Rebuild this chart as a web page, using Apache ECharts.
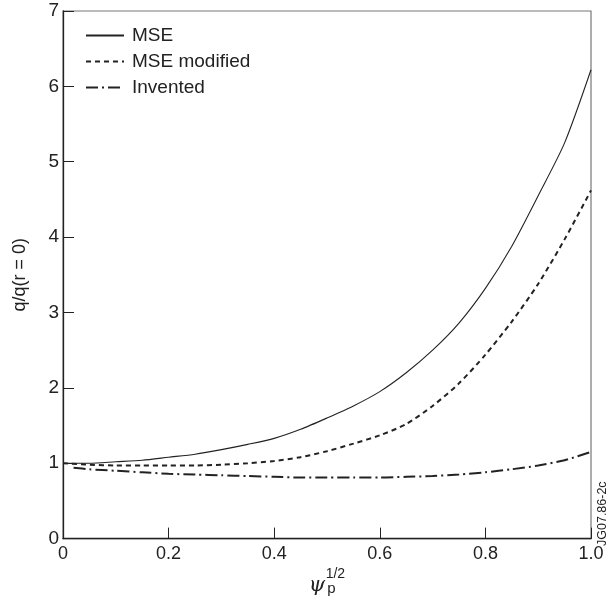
<!DOCTYPE html>
<html><head><meta charset="utf-8">
<script src="https://cdn.jsdelivr.net/npm/echarts@6/dist/echarts.min.js"></script>
<style>html,body{margin:0;padding:0;background:#fff}#c{width:608px;height:601px}</style>
</head><body><div id="c"></div>
<script>
var xs = [0,0.05,0.1,0.15,0.2,0.25,0.3,0.35,0.4,0.45,0.5,0.55,0.6,0.65,0.7,0.75,0.8,0.85,0.9,0.95,1.0];
var mse = [1.00,1.00,1.02,1.04,1.08,1.12,1.18,1.25,1.33,1.45,1.60,1.76,1.95,2.20,2.50,2.86,3.32,3.88,4.55,5.25,6.22];
var mseMod = [1.00,0.98,0.97,0.97,0.97,0.97,0.98,1.00,1.03,1.08,1.16,1.26,1.37,1.52,1.76,2.06,2.44,2.88,3.38,3.97,4.62];
var invX = [0.02,0.05,0.1,0.15,0.2,0.25,0.3,0.35,0.4,0.45,0.5,0.55,0.6,0.65,0.7,0.75,0.8,0.85,0.9,0.95,1.0];
var invented = [0.94,0.92,0.90,0.88,0.86,0.85,0.84,0.83,0.82,0.81,0.81,0.81,0.81,0.82,0.83,0.85,0.88,0.92,0.97,1.04,1.15];
var seriesNames = ['MSE','MSE modified','Invented'];
var xTicks = {0:'0',0.2:'0.2',0.4:'0.4',0.6:'0.6',0.8:'0.8',1:'1.0'};

function pairs(x, y){ return x.map(function(v,i){ return [v, y[i]]; }); }

var chart = echarts.init(document.getElementById('c'), null, {renderer:'canvas'});
var font = 'Liberation Sans, Arial, Helvetica, sans-serif';
chart.setOption({
  animation:false,
  textStyle:{fontFamily:font},
  grid:{left:63,right:17,top:11,bottom:61,show:true,borderColor:'#777',borderWidth:1.2},
  legend:{
    orient:'vertical', left:80, top:21, itemWidth:38, itemHeight:14, itemGap:7,
    itemStyle:{opacity:0},
    textStyle:{fontSize:19,color:'#222',fontFamily:font,padding:[0,0,0,3]},
    data:seriesNames
  },
  xAxis:{
    type:'value', min:0, max:1, interval:0.2,
    axisLine:{show:true,onZero:false,lineStyle:{color:'#222',width:1.3}},
    axisTick:{show:true,inside:true,length:11,lineStyle:{color:'#222',width:1}},
    splitLine:{show:false},
    axisLabel:{fontSize:18,color:'#222',margin:6,fontFamily:font,
      formatter:function(v){ var k=Math.round(v*10)/10; return xTicks[k]!==undefined?xTicks[k]:String(k); }},
    name:'{psi|ψ}{sub|p}{sup|1/2}', nameLocation:'middle', nameGap:26,
    nameTextStyle:{rich:{
      psi:{fontSize:21,fontStyle:'italic',fontFamily:'DejaVu Serif, serif',color:'#222',verticalAlign:'bottom'},
      sub:{fontSize:15,color:'#222',fontFamily:font,padding:[14,0,0,2]},
      sup:{fontSize:14,color:'#222',fontFamily:font,padding:[0,0,14,-10]}
    }}
  },
  yAxis:{
    type:'value', min:0, max:7, interval:1,
    axisLine:{show:true,onZero:false,lineStyle:{color:'#222',width:1.3}},
    axisTick:{show:true,inside:true,length:11,lineStyle:{color:'#222',width:1}},
    splitLine:{show:false},
    axisLabel:{fontSize:19,color:'#222',margin:4,fontFamily:font},
    name:'q/q(r = 0)', nameLocation:'middle', nameGap:34,
    nameTextStyle:{fontSize:18,color:'#222',fontFamily:font}
  },
  series:[
    {name:seriesNames[0],type:'line',symbol:'none',smooth:0.25,data:pairs(xs,mse),
     lineStyle:{color:'#222',width:1.1,type:'solid'},itemStyle:{color:'#222'}},
    {name:seriesNames[1],type:'line',symbol:'none',smooth:0.25,data:pairs(xs,mseMod),
     lineStyle:{color:'#222',width:2,type:[5,4]},itemStyle:{color:'#222'}},
    {name:seriesNames[2],type:'line',symbol:'none',smooth:0.25,data:pairs(invX,invented),
     lineStyle:{color:'#222',width:2,type:[12,4,2,4]},itemStyle:{color:'#222'}}
  ],
  graphic:[{
    type:'text', x:596, y:546, rotation:Math.PI/2,
    style:{text:'JG07.86-2c', fontSize:12.5, fontFamily:font, fill:'#222', textAlign:'left', textVerticalAlign:'top'}
  }]
});
</script></body></html>
